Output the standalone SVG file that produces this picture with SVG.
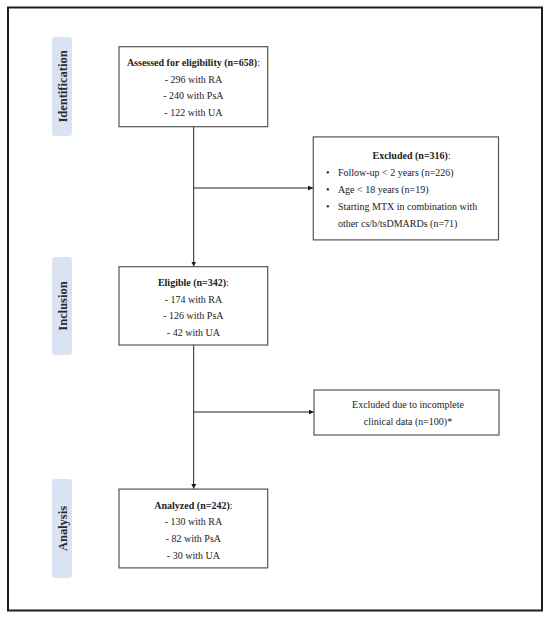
<svg xmlns="http://www.w3.org/2000/svg" width="550" height="619" viewBox="0 0 550 619">
<defs>
<marker id="ah" viewBox="0 0 10 10" refX="10" refY="5" markerWidth="5" markerHeight="5" orient="auto" markerUnits="userSpaceOnUse">
<path d="M0,0 L10,5 L0,10 z" fill="#1a1a1a"/>
</marker>
<style>
.box{fill:#fff;stroke:#555;stroke-width:1.2}
.pill{fill:#dae3f2}
.t{font-family:"Liberation Serif","Times New Roman",serif;font-size:10px;fill:#222;text-anchor:middle}
.l{font-family:"Liberation Serif","Times New Roman",serif;font-size:10px;fill:#222}
.b{font-weight:bold}
.side{font-family:"Liberation Serif","Times New Roman",serif;font-size:12.5px;font-weight:bold;fill:#2a2a38;text-anchor:middle}
.c{stroke:#222;stroke-width:1;fill:none}
</style>
</defs>
<rect x="0" y="0" width="550" height="619" fill="#fff"/>
<rect x="8" y="7.5" width="534" height="603" fill="none" stroke="#1c1c28" stroke-width="2"/>

<g id="identification">
<rect class="pill" x="52" y="37" width="20" height="99" rx="3"/>
<text class="side" transform="translate(66.5,86.5) rotate(-90)">Identification</text>
</g>
<g id="inclusion">
<rect class="pill" x="52" y="257" width="20" height="98" rx="3"/>
<text class="side" transform="translate(66.5,306) rotate(-90)">Inclusion</text>
</g>
<g id="analysis">
<rect class="pill" x="52" y="479" width="20" height="99" rx="3"/>
<text class="side" transform="translate(66.5,528.5) rotate(-90)">Analysis</text>
</g>

<g id="connectors">
<line class="c" x1="193.7" y1="126.7" x2="193.7" y2="266.5" marker-end="url(#ah)"/>
<line class="c" x1="193.7" y1="188" x2="313" y2="188" marker-end="url(#ah)"/>
<line class="c" x1="193.7" y1="345" x2="193.7" y2="488.8" marker-end="url(#ah)"/>
<line class="c" x1="193.7" y1="412" x2="313.8" y2="412" marker-end="url(#ah)"/>
</g>

<g id="assessed">
<rect class="box" x="119" y="46.7" width="148.7" height="80"/>
<text class="t" x="193.4" y="66"><tspan class="b">Assessed for eligibility (n=658)</tspan>:</text>
<text class="t" x="193.4" y="82.7">- 296 with RA</text>
<text class="t" x="193.4" y="99.3">- 240 with PsA</text>
<text class="t" x="193.4" y="116.3">- 122 with UA</text>
</g>

<g id="excluded1">
<rect class="box" x="313.3" y="136.9" width="185.2" height="103"/>
<text class="t" x="411.6" y="159"><tspan class="b">Excluded (n=316)</tspan>:</text>
<text class="l" x="326" y="175.6">•</text>
<text class="l" x="337.9" y="175.6">Follow-up &lt; 2 years (n=226)</text>
<text class="l" x="326" y="192.6">•</text>
<text class="l" x="337.9" y="192.6">Age &lt; 18 years (n=19)</text>
<text class="l" x="326" y="209.6">•</text>
<text class="l" x="337.9" y="209.6">Starting MTX in combination with</text>
<text class="l" x="337.9" y="226.6">other cs/b/tsDMARDs (n=71)</text>
</g>

<g id="eligible">
<rect class="box" x="119" y="266.7" width="148.7" height="78.3"/>
<text class="t" x="193.4" y="286.1"><tspan class="b">Eligible (n=342)</tspan>:</text>
<text class="t" x="193.4" y="302.7">- 174 with RA</text>
<text class="t" x="193.4" y="319.3">- 126 with PsA</text>
<text class="t" x="193.4" y="336.3">- 42 with UA</text>
</g>

<g id="excluded2">
<rect class="box" x="314" y="390" width="185" height="45"/>
<text class="t" x="408" y="408.3">Excluded due to incomplete</text>
<text class="t" x="408" y="425">clinical data (n=100)*</text>
</g>

<g id="analyzed">
<rect class="box" x="119" y="489.1" width="148.7" height="78.8"/>
<text class="t" x="193.4" y="508.5"><tspan class="b">Analyzed (n=242)</tspan>:</text>
<text class="t" x="193.4" y="525.1">- 130 with RA</text>
<text class="t" x="193.4" y="542.1">- 82 with PsA</text>
<text class="t" x="193.4" y="558.7">- 30 with UA</text>
</g>
</svg>
